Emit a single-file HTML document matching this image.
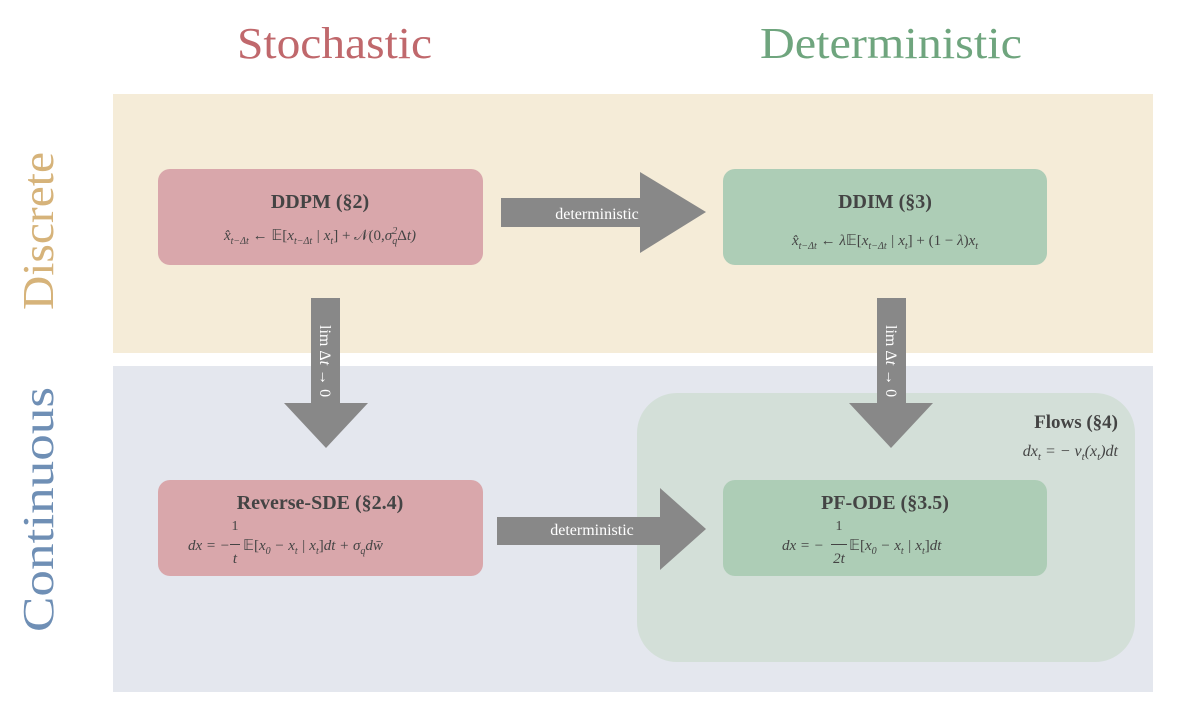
<!DOCTYPE html>
<html><head><meta charset="utf-8"><style>
html,body{margin:0;padding:0;background:#fff;}
svg{display:block;font-family:"Liberation Serif",serif;}
</style></head><body>
<svg width="1180" height="709" viewBox="0 0 1180 709" xmlns="http://www.w3.org/2000/svg">
<rect x="0" y="0" width="1180" height="709" fill="#fff"/>
<text x="237" y="58" font-size="44" fill="#c0686c" textLength="195" lengthAdjust="spacingAndGlyphs">Stochastic</text>
<text x="760" y="58" font-size="44" fill="#6fa57e" textLength="262" lengthAdjust="spacingAndGlyphs">Deterministic</text>
<rect x="113" y="94" width="1040" height="259" fill="#f5ecd8"/>
<rect x="113" y="366" width="1040" height="326" fill="#e4e7ee"/>
<text transform="translate(53,310) rotate(-90)" font-size="44" fill="#d6b37a" textLength="158" lengthAdjust="spacingAndGlyphs">Discrete</text>
<text transform="translate(53,632) rotate(-90)" font-size="44" fill="#6f8fb5" textLength="245" lengthAdjust="spacingAndGlyphs">Continuous</text>
<rect x="637" y="393" width="498" height="269" rx="40" fill="#d3dfd8"/>
<text x="1118" y="428" font-size="19" font-weight="bold" fill="#444" text-anchor="end">Flows (§4)</text>
<text x="1118" y="456" font-size="16" font-style="italic" fill="#444" text-anchor="end">dx<tspan font-size="11" dy="4">t</tspan><tspan dy="-4"> = − v</tspan><tspan font-size="11" dy="4">t</tspan><tspan dy="-4">(x</tspan><tspan font-size="11" dy="4">t</tspan><tspan dy="-4">)dt</tspan></text>
<rect x="158" y="169" width="325" height="96" rx="12" fill="#d9a7ab"/>
<rect x="723" y="169" width="324" height="96" rx="12" fill="#adcdb6"/>
<rect x="158" y="480" width="325" height="96" rx="12" fill="#d9a7ab"/>
<rect x="723" y="480" width="324" height="96" rx="12" fill="#adcdb6"/>
<g fill="#888">
<polygon points="501,198 640,198 640,172 706,212 640,253 640,227 501,227"/>
<polygon points="497,517 660,517 660,488 706,529 660,570 660,545 497,545"/>
<polygon points="311,298 340,298 340,403 368,403 326,448 284,403 311,403"/>
<polygon points="877,298 906,298 906,403 933,403 891,448 849,403 877,403"/>
</g>
<text x="597" y="219" font-size="16" fill="#fff" text-anchor="middle">deterministic</text>
<text x="592" y="535" font-size="16" fill="#fff" text-anchor="middle">deterministic</text>
<text transform="translate(320,325) rotate(90)" font-size="16" fill="#fff">lim Δ<tspan font-style="italic">t</tspan> → 0</text>
<text transform="translate(886,325) rotate(90)" font-size="16" fill="#fff">lim Δ<tspan font-style="italic">t</tspan> → 0</text>
<g fill="#444">
<text x="320" y="208" font-size="20" font-weight="bold" text-anchor="middle">DDPM (§2)</text>
<text x="320" y="240" font-size="15" font-style="italic" text-anchor="middle">x̂<tspan font-size="10" dy="4">t−Δt</tspan><tspan dy="-4" font-style="normal"> ← 𝔼[</tspan>x<tspan font-size="10" dy="4">t−Δt</tspan><tspan dy="-4"> | x</tspan><tspan font-size="10" dy="4">t</tspan><tspan dy="-4" font-style="normal">] + 𝒩(0,</tspan>σ<tspan font-size="10" dy="4">q</tspan><tspan font-size="10" dy="-10" dx="-5">2</tspan><tspan dy="6" font-style="normal">Δ</tspan>t)</text>
<text x="885" y="208" font-size="20" font-weight="bold" text-anchor="middle">DDIM (§3)</text>
<text x="885" y="245" font-size="15" font-style="italic" text-anchor="middle">x̂<tspan font-size="10" dy="4">t−Δt</tspan><tspan dy="-4" font-style="normal"> ← </tspan>λ<tspan font-style="normal">𝔼[</tspan>x<tspan font-size="10" dy="4">t−Δt</tspan><tspan dy="-4"> | x</tspan><tspan font-size="10" dy="4">t</tspan><tspan dy="-4" font-style="normal">] + (1 − </tspan>λ<tspan font-style="normal">)</tspan>x<tspan font-size="10" dy="4">t</tspan></text>
<text x="320" y="509" font-size="20" font-weight="bold" text-anchor="middle">Reverse-SDE (§2.4)</text>
<text x="235" y="530" font-size="14" text-anchor="middle">1</text>
<text x="235" y="563" font-size="15" font-style="italic" text-anchor="middle">t</text>
<rect x="230" y="544" width="10" height="1"/>
<text x="188" y="550" font-size="15" font-style="italic">dx = − </text>
<text x="243" y="550" font-size="15" font-style="italic"><tspan font-style="normal">𝔼[</tspan>x<tspan font-size="10" dy="4">0</tspan><tspan dy="-4"> − x</tspan><tspan font-size="10" dy="4">t</tspan><tspan dy="-4"> | x</tspan><tspan font-size="10" dy="4">t</tspan><tspan dy="-4" font-style="normal">]</tspan>dt + σ<tspan font-size="10" dy="4">q</tspan><tspan dy="-4">dw̄</tspan></text>
<text x="885" y="509" font-size="20" font-weight="bold" text-anchor="middle">PF-ODE (§3.5)</text>
<text x="839" y="530" font-size="14" text-anchor="middle">1</text>
<text x="839" y="563" font-size="15" font-style="italic" text-anchor="middle">2t</text>
<rect x="831" y="544" width="16" height="1"/>
<text x="782" y="550" font-size="15" font-style="italic">dx = − </text>
<text x="849" y="550" font-size="15" font-style="italic"><tspan font-style="normal">𝔼[</tspan>x<tspan font-size="10" dy="4">0</tspan><tspan dy="-4"> − x</tspan><tspan font-size="10" dy="4">t</tspan><tspan dy="-4"> | x</tspan><tspan font-size="10" dy="4">t</tspan><tspan dy="-4" font-style="normal">]</tspan>dt</text>
</g>
</svg>
</body></html>
